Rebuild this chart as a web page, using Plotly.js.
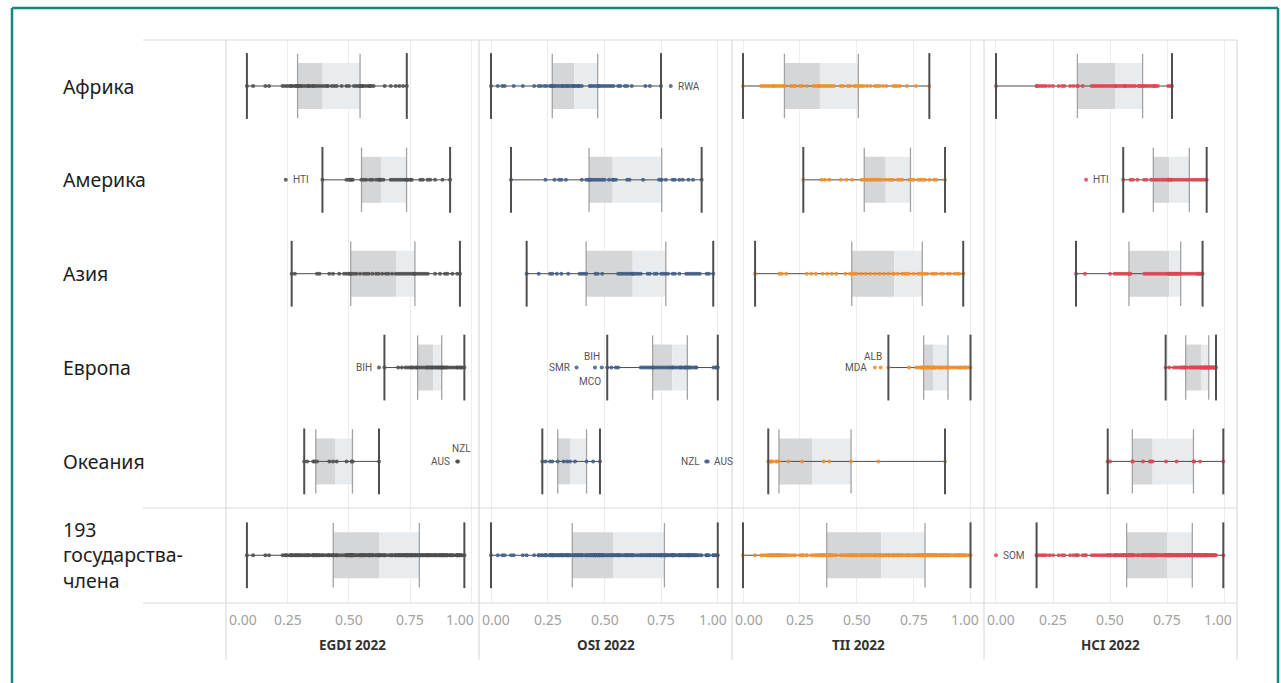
<!DOCTYPE html>
<html><head><meta charset="utf-8">
<script src="https://cdn.plot.ly/plotly-3.0.1.min.js"></script>
<style>html,body{margin:0;padding:0;background:#fff}#chart{width:1281px;height:683px}</style>
</head><body><div id="chart"></div>
<script>
// ---------- DATA ----------
const rowLabels = ['Африка', 'Америка', 'Азия', 'Европа', 'Океания', '193<br>государства-<br>члена'];
const indexTitles = ['EGDI 2022', 'OSI 2022', 'TII 2022', 'HCI 2022'];
const tickVals = [0, 0.25, 0.5, 0.75, 1];
const tickText = ['0.00', '0.25', '0.50', '0.75', '1.00'];

// box statistics, rows: Africa, America, Asia, Europe, Oceania, 193 member states
const egdiLo  = [0.085, 0.392, 0.267, 0.644, 0.318, 0.085];
const egdiQ1  = [0.291, 0.551, 0.507, 0.779, 0.365, 0.436];
const egdiMed = [0.393, 0.630, 0.691, 0.843, 0.443, 0.622];
const egdiQ3  = [0.545, 0.734, 0.768, 0.877, 0.514, 0.786];
const egdiHi  = [0.735, 0.911, 0.951, 0.969, 0.622, 0.969];

const osiLo  = [0.000, 0.088, 0.157, 0.512, 0.226, 0.000];
const osiQ1  = [0.270, 0.432, 0.419, 0.712, 0.294, 0.358];
const osiMed = [0.367, 0.536, 0.624, 0.799, 0.348, 0.539];
const osiQ3  = [0.470, 0.752, 0.770, 0.865, 0.421, 0.764];
const osiHi  = [0.749, 0.928, 0.979, 0.999, 0.480, 0.999];

const tiiLo  = [0.000, 0.265, 0.053, 0.639, 0.111, 0.000];
const tiiQ1  = [0.182, 0.533, 0.478, 0.794, 0.158, 0.368];
const tiiMed = [0.338, 0.627, 0.664, 0.837, 0.305, 0.607];
const tiiQ3  = [0.507, 0.736, 0.788, 0.901, 0.475, 0.800];
const tiiHi  = [0.819, 0.888, 0.968, 1.000, 0.888, 1.000];

const hciLo  = [0.000, 0.558, 0.351, 0.744, 0.490, 0.178];
const hciQ1  = [0.357, 0.690, 0.583, 0.832, 0.598, 0.573];
const hciMed = [0.522, 0.760, 0.760, 0.899, 0.687, 0.751];
const hciQ3  = [0.643, 0.848, 0.810, 0.933, 0.866, 0.861];
const hciHi  = [0.772, 0.924, 0.906, 0.965, 0.997, 0.997];

// country values per region
const egdiAfrica = [0.085,0.11,0.16,0.175,0.23,0.24,0.25,0.26,0.265,0.27,0.28,0.285,0.29,0.295,0.30,0.305,0.31,0.32,0.33,0.335,0.34,0.35,0.355,0.36,0.37,0.38,0.39,0.40,0.41,0.415,0.43,0.44,0.45,0.47,0.49,0.50,0.52,0.53,0.54,0.545,0.55,0.555,0.56,0.57,0.58,0.585,0.59,0.60,0.645,0.67,0.69,0.705,0.72,0.735];
const egdiAmerica = [0.243,0.392,0.49,0.50,0.505,0.51,0.515,0.55,0.56,0.57,0.585,0.595,0.61,0.62,0.625,0.63,0.64,0.67,0.68,0.69,0.70,0.71,0.72,0.73,0.735,0.74,0.75,0.755,0.79,0.80,0.82,0.83,0.85,0.88,0.911];
const egdiAsia = [0.267,0.28,0.37,0.38,0.42,0.435,0.46,0.48,0.49,0.50,0.505,0.51,0.52,0.53,0.545,0.56,0.57,0.58,0.595,0.61,0.62,0.635,0.65,0.66,0.675,0.69,0.70,0.71,0.72,0.73,0.74,0.75,0.76,0.765,0.77,0.78,0.79,0.80,0.81,0.82,0.85,0.87,0.89,0.90,0.92,0.94,0.951];
const egdiEurope = [0.622,0.644,0.70,0.715,0.73,0.74,0.75,0.755,0.76,0.77,0.775,0.78,0.79,0.80,0.81,0.815,0.82,0.825,0.83,0.835,0.84,0.843,0.85,0.855,0.86,0.865,0.87,0.875,0.877,0.88,0.885,0.89,0.895,0.90,0.91,0.92,0.93,0.94,0.94,0.95,0.955,0.96,0.969];
const egdiOceania = [0.318,0.33,0.355,0.36,0.37,0.42,0.435,0.45,0.49,0.51,0.515,0.622,0.940,0.943];

const osiAfrica = [0.0,0.03,0.05,0.06,0.10,0.14,0.19,0.21,0.22,0.235,0.245,0.26,0.265,0.27,0.275,0.28,0.29,0.30,0.31,0.315,0.32,0.33,0.335,0.34,0.35,0.36,0.365,0.37,0.38,0.385,0.39,0.40,0.435,0.44,0.45,0.46,0.47,0.475,0.48,0.49,0.50,0.51,0.52,0.53,0.54,0.56,0.57,0.59,0.60,0.62,0.68,0.70,0.749,0.792];
const osiAmerica = [0.088,0.24,0.28,0.30,0.31,0.33,0.40,0.42,0.43,0.435,0.44,0.45,0.46,0.47,0.48,0.49,0.50,0.52,0.536,0.54,0.55,0.60,0.61,0.67,0.74,0.75,0.752,0.77,0.80,0.81,0.83,0.845,0.87,0.89,0.928];
const osiAsia = [0.157,0.21,0.26,0.27,0.29,0.31,0.34,0.39,0.40,0.41,0.42,0.46,0.47,0.49,0.56,0.57,0.58,0.59,0.60,0.61,0.62,0.624,0.63,0.64,0.65,0.66,0.69,0.70,0.72,0.73,0.75,0.76,0.77,0.78,0.80,0.81,0.83,0.86,0.87,0.88,0.89,0.90,0.91,0.92,0.95,0.96,0.979];
const osiEurope = [0.377,0.458,0.488,0.512,0.53,0.55,0.56,0.66,0.67,0.68,0.69,0.70,0.71,0.712,0.72,0.73,0.74,0.75,0.76,0.77,0.78,0.79,0.799,0.80,0.81,0.82,0.83,0.835,0.84,0.85,0.855,0.86,0.865,0.87,0.875,0.88,0.89,0.90,0.905,0.98,0.99,0.995,0.999];
const osiOceania = [0.226,0.24,0.26,0.27,0.294,0.32,0.335,0.348,0.37,0.421,0.45,0.48,0.948,0.955];

const tiiAfrica = [0.0,0.08,0.09,0.10,0.11,0.12,0.13,0.135,0.14,0.15,0.16,0.17,0.18,0.185,0.21,0.22,0.23,0.25,0.26,0.28,0.31,0.32,0.33,0.335,0.34,0.35,0.36,0.37,0.38,0.39,0.40,0.43,0.44,0.46,0.47,0.49,0.50,0.51,0.52,0.53,0.545,0.56,0.58,0.59,0.60,0.615,0.63,0.66,0.67,0.68,0.69,0.72,0.76,0.819];
const tiiAmerica = [0.265,0.345,0.36,0.38,0.43,0.455,0.48,0.52,0.53,0.54,0.55,0.56,0.57,0.58,0.59,0.60,0.61,0.627,0.64,0.65,0.66,0.68,0.69,0.70,0.73,0.74,0.75,0.77,0.78,0.79,0.80,0.82,0.84,0.85,0.888];
const tiiAsia = [0.053,0.16,0.17,0.19,0.28,0.30,0.32,0.35,0.37,0.39,0.41,0.45,0.47,0.48,0.49,0.50,0.52,0.54,0.56,0.58,0.60,0.62,0.64,0.66,0.664,0.68,0.70,0.71,0.72,0.73,0.75,0.77,0.78,0.79,0.80,0.81,0.83,0.84,0.85,0.87,0.88,0.90,0.91,0.93,0.94,0.95,0.968];
const tiiEurope = [0.58,0.605,0.639,0.73,0.76,0.77,0.78,0.785,0.79,0.794,0.80,0.805,0.81,0.815,0.82,0.825,0.83,0.835,0.837,0.84,0.845,0.85,0.86,0.865,0.87,0.875,0.88,0.89,0.895,0.90,0.901,0.91,0.92,0.93,0.94,0.95,0.955,0.96,0.97,0.975,0.98,0.99,1.0];
const tiiOceania = [0.111,0.12,0.125,0.13,0.145,0.15,0.158,0.20,0.26,0.355,0.38,0.475,0.595,0.888];

const hciAfrica = [0.0,0.178,0.18,0.19,0.20,0.21,0.22,0.235,0.25,0.275,0.29,0.30,0.325,0.34,0.355,0.36,0.38,0.42,0.43,0.44,0.45,0.46,0.47,0.48,0.49,0.50,0.51,0.52,0.525,0.53,0.54,0.55,0.56,0.565,0.57,0.58,0.59,0.60,0.61,0.625,0.63,0.64,0.645,0.65,0.66,0.67,0.68,0.69,0.695,0.70,0.71,0.755,0.765,0.772];
const hciAmerica = [0.395,0.558,0.59,0.60,0.62,0.65,0.66,0.68,0.69,0.70,0.71,0.72,0.73,0.74,0.75,0.755,0.76,0.765,0.77,0.78,0.79,0.80,0.81,0.82,0.83,0.84,0.848,0.86,0.87,0.88,0.89,0.90,0.91,0.92,0.924];
const hciAsia = [0.351,0.39,0.50,0.52,0.53,0.54,0.55,0.56,0.57,0.58,0.583,0.59,0.65,0.66,0.67,0.68,0.69,0.70,0.71,0.72,0.73,0.74,0.75,0.755,0.76,0.765,0.77,0.775,0.78,0.785,0.79,0.795,0.80,0.805,0.81,0.82,0.83,0.84,0.85,0.86,0.87,0.88,0.885,0.89,0.895,0.90,0.906];
const hciEurope = [0.744,0.76,0.78,0.79,0.80,0.81,0.815,0.82,0.825,0.83,0.832,0.84,0.85,0.855,0.86,0.865,0.87,0.875,0.88,0.885,0.89,0.895,0.899,0.90,0.905,0.91,0.912,0.915,0.918,0.92,0.923,0.926,0.93,0.933,0.936,0.94,0.943,0.946,0.95,0.953,0.956,0.96,0.965];
const hciOceania = [0.49,0.50,0.598,0.60,0.645,0.675,0.68,0.687,0.746,0.792,0.866,0.87,0.895,0.997];

// labelled outliers
const outCodes = ['RWA','HTI','HTI','BIH','SMR','BIH','MCO','ALB','MDA','NZL','AUS','NZL','AUS','SOM'];
const outIndex = [1,0,3,0,1,1,1,2,2,0,0,1,1,3];
const outRow   = [0,1,1,3,3,3,3,3,3,4,4,4,4,5];
const outValue = [0.792,0.243,0.395,0.622,0.377,0.458,0.488,0.605,0.58,0.943,0.940,0.948,0.955,0.0];

// ---------- LAYOUT HELPERS ----------
const W = 1281, H = 683;
const px = v => v / W, py = v => 1 - v / H;
const colDomainsPx = [[226,479],[479,732],[732,984],[984,1237]];
const colRanges = [[0,1.0285],[-0.0529,1.0617],[-0.0484,1.0593],[-0.0526,1.0570]];
const dotColors = ['#4e4e4e','#3f5d86','#f28e2b','#dc4552'];
// label placement: [xanchor, xshift, yshift]
const outPlace = [['left',5,0],['left',5,0],['left',5,0],['right',-5,0],['right',-5,0],['right',7,11],['right',1,-14],
                  ['right',3,11],['right',-6,0],['right',15,13],['right',-5,0],['right',-4,0],['left',4,0],['left',5,0]];

const stats = [
  [egdiLo, egdiQ1, egdiMed, egdiQ3, egdiHi],
  [osiLo, osiQ1, osiMed, osiQ3, osiHi],
  [tiiLo, tiiQ1, tiiMed, tiiQ3, tiiHi],
  [hciLo, hciQ1, hciMed, hciQ3, hciHi]
];
const dots = [
  [egdiAfrica, egdiAmerica, egdiAsia, egdiEurope, egdiOceania],
  [osiAfrica, osiAmerica, osiAsia, osiEurope, osiOceania],
  [tiiAfrica, tiiAmerica, tiiAsia, tiiEurope, tiiOceania],
  [hciAfrica, hciAmerica, hciAsia, hciEurope, hciOceania]
];

const rows = rowLabels.map((_, i) => i);
const BOXH = 0.49;   // box height in row units
const CAP = 46;      // cap size in px

const traces = [];
const layout = {
  width: W, height: H,
  margin: {l:0, r:0, t:0, b:0},
  paper_bgcolor: '#ffffff', plot_bgcolor: 'rgba(0,0,0,0)',
  showlegend: false, barmode: 'overlay', hovermode: false,
  font: {family: 'Noto Sans, Open Sans, sans-serif'},
  yaxis: {domain: [py(603), py(40)], range: [(603-86)/93.85, (40-86)/93.85],
          showgrid: false, zeroline: false, showticklabels: false, showline: false, fixedrange: true},
  annotations: [], shapes: []
};

stats.forEach((st, c) => {
  const xa = c === 0 ? 'x' : 'x' + (c + 1);
  const xkey = c === 0 ? 'xaxis' : 'xaxis' + (c + 1);
  const [lo, q1, med, q3, hi] = st;
  layout[xkey] = {
    domain: [px(colDomainsPx[c][0]), px(colDomainsPx[c][1])],
    range: colRanges[c], anchor: 'y',
    tickvals: tickVals, showticklabels: false, ticks: '',
    showgrid: true, gridcolor: '#ededed', gridwidth: 1,
    zeroline: false, showline: false, fixedrange: true
  };
  // two-tone box
  traces.push({type:'bar', orientation:'h', xaxis:xa, yaxis:'y', y:rows,
    base:q1, x:q1.map((v,i)=>med[i]-v), width:BOXH, marker:{color:'#d5d6d7', line:{width:0}}, hoverinfo:'skip'});
  traces.push({type:'bar', orientation:'h', xaxis:xa, yaxis:'y', y:rows,
    base:med, x:med.map((v,i)=>q3[i]-v), width:BOXH, marker:{color:'#e9ecef', line:{width:0}}, hoverinfo:'skip'});
  // whisker line
  const wx = [], wy = [];
  rows.forEach(i => { wx.push(lo[i], hi[i], null); wy.push(i, i, null); });
  traces.push({type:'scatter', mode:'lines', xaxis:xa, yaxis:'y', x:wx, y:wy,
    line:{color:'#4a4a4a', width:1}, hoverinfo:'skip'});
  // box edges at Q1 and Q3
  traces.push({type:'scatter', mode:'markers', xaxis:xa, yaxis:'y', x:q1.concat(q3), y:rows.concat(rows),
    marker:{symbol:'line-ns', size:CAP, line:{color:'#a3a3a3', width:1.3}}, hoverinfo:'skip'});
  // dots
  const dx = [], dy = [];
  dots[c].forEach((arr, r) => arr.forEach(v => { dx.push(v); dy.push(r); }));
  dots[c].forEach(arr => arr.forEach(v => { dx.push(v); dy.push(5); }));
  traces.push({type:'scatter', mode:'markers', xaxis:xa, yaxis:'y', x:dx, y:dy,
    marker:{color:dotColors[c], size:4, opacity:0.85, line:{width:0}}, hoverinfo:'skip'});
  // whisker caps
  traces.push({type:'scatter', mode:'markers', xaxis:xa, yaxis:'y', x:lo.concat(hi), y:rows.concat(rows),
    marker:{symbol:'line-ns', size:CAP+1, line:{color:'#4f4f4f', width:2}}, hoverinfo:'skip'});

  // tick labels
  tickVals.forEach((v, k) => {
    const a = {text: tickText[k], yref:'paper', y: py(619), yanchor:'middle', showarrow:false,
               font:{size:14, color:'#a2a2a2', family:'Noto Sans, sans-serif'}};
    if (k === 0) { a.xref = xa + ' domain'; a.x = 0; a.xanchor = 'left'; a.xshift = 1; }
    else if (k === tickVals.length - 1) { a.xref = xa + ' domain'; a.x = 1; a.xanchor = 'right'; a.xshift = -3; }
    else { a.xref = xa; a.x = v; a.xanchor = 'center'; }
    layout.annotations.push(a);
  });
  // axis title
  layout.annotations.push({text:'<b>' + indexTitles[c] + '</b>', xref: xa + ' domain', x:0.5, xanchor:'center',
    yref:'paper', y:py(645), yanchor:'middle', showarrow:false, font:{size:13.5, color:'#333333', family:'Noto Sans, sans-serif'}});
  // pane separator
  layout.shapes.push({type:'line', xref:'paper', yref:'paper', x0:px(colDomainsPx[c][0]), x1:px(colDomainsPx[c][0]),
    y0:py(40), y1:py(660), line:{color:'#d4d4d4', width:1}});
});
layout.shapes.push({type:'line', xref:'paper', yref:'paper', x0:px(1237), x1:px(1237), y0:py(40), y1:py(660), line:{color:'#d4d4d4', width:1}});
[40, 508, 603].forEach(yy => layout.shapes.push({type:'line', xref:'paper', yref:'paper', x0:px(143), x1:px(1237),
  y0:py(yy), y1:py(yy), line:{color:'#dadada', width:1}}));
// teal frame
layout.shapes.push({type:'line', xref:'paper', yref:'paper', x0:px(12), x1:px(12), y0:py(8), y1:-0.05, line:{color:'#13887f', width:2.5}});
layout.shapes.push({type:'line', xref:'paper', yref:'paper', x0:px(12), x1:px(1278), y0:py(8), y1:py(8), line:{color:'#13887f', width:2.5}});
layout.shapes.push({type:'line', xref:'paper', yref:'paper', x0:px(1278), x1:px(1278), y0:py(8), y1:-0.05, line:{color:'#13887f', width:2.5}});

// row labels
rowLabels.forEach((t, i) => layout.annotations.push({text:t, xref:'paper', x:px(61), xanchor:'left', align:'left',
  yref:'y', y:i, yanchor:'middle', showarrow:false, font:{size:19.5, color:'#1e1e1e', family:'Noto Sans, sans-serif'}}));

// outlier labels
outCodes.forEach((code, k) => {
  const c = outIndex[k];
  const xa = c === 0 ? 'x' : 'x' + (c + 1);
  const p = outPlace[k];
  layout.annotations.push({text:code, xref:xa, x:outValue[k], yref:'y', y:outRow[k], xanchor:p[0], yanchor:'middle',
    xshift:p[1], yshift:p[2], showarrow:false, font:{size:10, color:'#555555', family:'Roboto, sans-serif'}});
});

Plotly.newPlot('chart', traces, layout, {displayModeBar:false, staticPlot:true});
</script></body></html>
